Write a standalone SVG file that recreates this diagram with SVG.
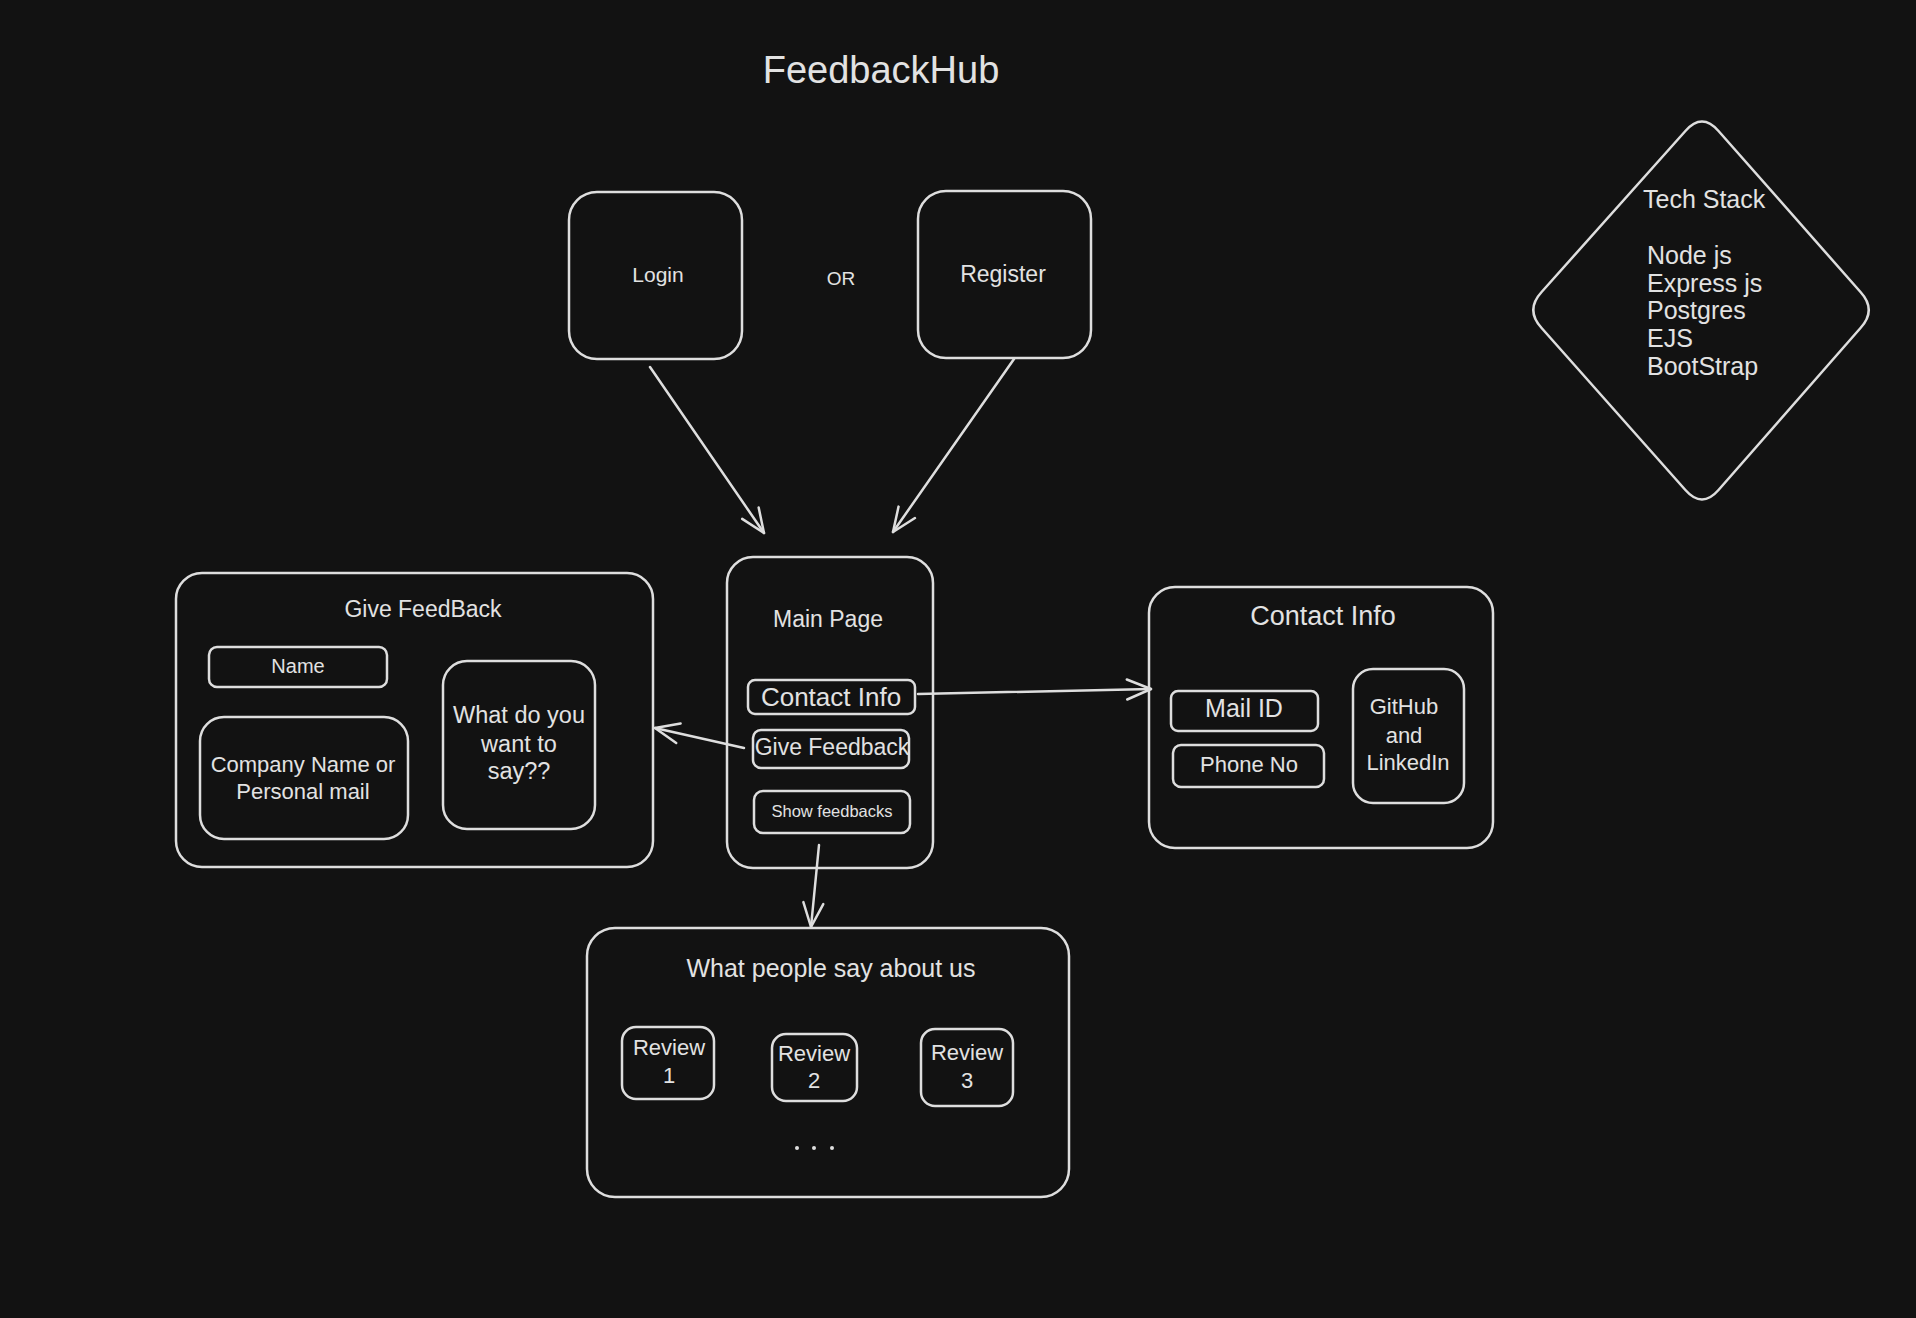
<svg xmlns="http://www.w3.org/2000/svg" width="1916" height="1318" viewBox="0 0 1916 1318">
<defs>
<style>
.b{fill:none;stroke:#dedede;stroke-width:2.5}
.t{fill:#e2e2e2;font-family:"Liberation Sans",Arial,sans-serif;text-anchor:middle}
.l{fill:#e2e2e2;font-family:"Liberation Sans",Arial,sans-serif;text-anchor:start}
.c{fill:none;stroke:#dedede;stroke-width:2.5;stroke-linecap:round}
</style>
<marker id="ah" viewBox="-26 -14 30 28" refX="0" refY="0" markerWidth="30" markerHeight="28" markerUnits="userSpaceOnUse" orient="auto">
<path d="M -24,-10 L 0,0 L -24,10" fill="none" stroke="#dedede" stroke-width="2.5" stroke-linecap="round" stroke-linejoin="round"/>
</marker>
</defs>
<rect width="1916" height="1318" fill="#121212"/>

<g id="title"><text class="t" x="881" y="83" font-size="38">FeedbackHub</text></g>

<g id="login"><rect class="b" x="569" y="192" width="173" height="167" rx="28"/><text class="t" x="658" y="282" font-size="21">Login</text></g>
<g id="or"><text class="t" x="841" y="285" font-size="19">OR</text></g>
<g id="register"><rect class="b" x="918" y="191" width="173" height="167" rx="28"/><text class="t" x="1003" y="282" font-size="23">Register</text></g>

<g id="techstack">
<path class="b" d="M 1718.5,131 L 1860.5,292 Q 1877,310 1860.5,328 L 1718.5,490 Q 1702,509 1685.4,490 L 1541.6,328 Q 1525,310 1541.6,292 L 1685.4,131 Q 1702,112 1718.5,131 Z"/>
<text class="l" x="1643" y="208" font-size="25">Tech Stack</text>
<text class="l" x="1647" y="264" font-size="25">Node js</text>
<text class="l" x="1647" y="292" font-size="25">Express js</text>
<text class="l" x="1647" y="319" font-size="25">Postgres</text>
<text class="l" x="1647" y="347" font-size="25">EJS</text>
<text class="l" x="1647" y="375" font-size="25">BootStrap</text>
</g>

<g id="givefeedback">
<rect class="b" x="176" y="573" width="477" height="294" rx="26"/>
<text class="t" x="423" y="617" font-size="23">Give FeedBack</text>
<g id="name"><rect class="b" x="209" y="647" width="178" height="40" rx="8"/><text class="t" x="298" y="673" font-size="20">Name</text></g>
<g id="company"><rect class="b" x="200" y="717" width="208" height="122" rx="24"/><text class="t" x="303" y="772" font-size="22">Company Name or</text><text class="t" x="303" y="799" font-size="22">Personal mail</text></g>
<g id="say"><rect class="b" x="443" y="661" width="152" height="168" rx="24"/><text class="t" x="519" y="723" font-size="23.5">What do you</text><text class="t" x="519" y="752" font-size="23.5">want to</text><text class="t" x="519" y="779" font-size="23.5">say??</text></g>
</g>

<g id="mainpage">
<rect class="b" x="727" y="557" width="206" height="311" rx="26"/>
<text class="t" x="828" y="627" font-size="23">Main Page</text>
<g id="btn-contact"><rect class="b" x="748" y="680" width="167" height="34" rx="7"/><text class="t" x="831" y="706" font-size="26">Contact Info</text></g>
<g id="btn-give"><rect class="b" x="753" y="730" width="156" height="38" rx="8"/><text class="t" x="832" y="755" font-size="23">Give Feedback</text></g>
<g id="btn-show"><rect class="b" x="754" y="791" width="156" height="42" rx="9"/><text class="t" x="832" y="817" font-size="16.5">Show feedbacks</text></g>
</g>

<g id="contactinfo">
<rect class="b" x="1149" y="587" width="344" height="261" rx="26"/>
<text class="t" x="1323" y="625" font-size="27">Contact Info</text>
<g id="mail"><rect class="b" x="1171" y="691" width="147" height="40" rx="7"/><text class="t" x="1244" y="717" font-size="25">Mail ID</text></g>
<g id="phone"><rect class="b" x="1173" y="745" width="151" height="42" rx="8"/><text class="t" x="1249" y="772" font-size="22">Phone No</text></g>
<g id="github"><rect class="b" x="1353" y="669" width="111" height="134" rx="20"/><text class="t" x="1404" y="714" font-size="22">GitHub</text><text class="t" x="1404" y="743" font-size="22">and</text><text class="t" x="1408" y="770" font-size="22">LinkedIn</text></g>
</g>

<g id="reviews">
<rect class="b" x="587" y="928" width="482" height="269" rx="28"/>
<text class="t" x="831" y="977" font-size="25">What people say about us</text>
<g id="review1"><rect class="b" x="622" y="1027" width="92" height="72" rx="14"/><text class="t" x="669" y="1055" font-size="22">Review</text><text class="t" x="669" y="1083" font-size="22">1</text></g>
<g id="review2"><rect class="b" x="772" y="1034" width="85" height="67" rx="14"/><text class="t" x="814" y="1061" font-size="22">Review</text><text class="t" x="814" y="1088" font-size="22">2</text></g>
<g id="review3"><rect class="b" x="921" y="1029" width="92" height="77" rx="14"/><text class="t" x="967" y="1060" font-size="22">Review</text><text class="t" x="967" y="1088" font-size="22">3</text></g>
<g id="dots"><circle cx="797" cy="1148" r="2" fill="#dedede"/><circle cx="814" cy="1148" r="2" fill="#dedede"/><circle cx="832" cy="1148" r="2" fill="#dedede"/></g>
</g>

<g id="connectors">
<line class="c" x1="650" y1="367" x2="764" y2="533" marker-end="url(#ah)"/>
<line class="c" x1="1014" y1="359" x2="893" y2="532" marker-end="url(#ah)"/>
<line class="c" x1="744" y1="748" x2="655" y2="728" marker-end="url(#ah)"/>
<line class="c" x1="918" y1="694" x2="1151" y2="689" marker-end="url(#ah)"/>
<line class="c" x1="819" y1="845" x2="811" y2="927" marker-end="url(#ah)"/>
</g>
</svg>
